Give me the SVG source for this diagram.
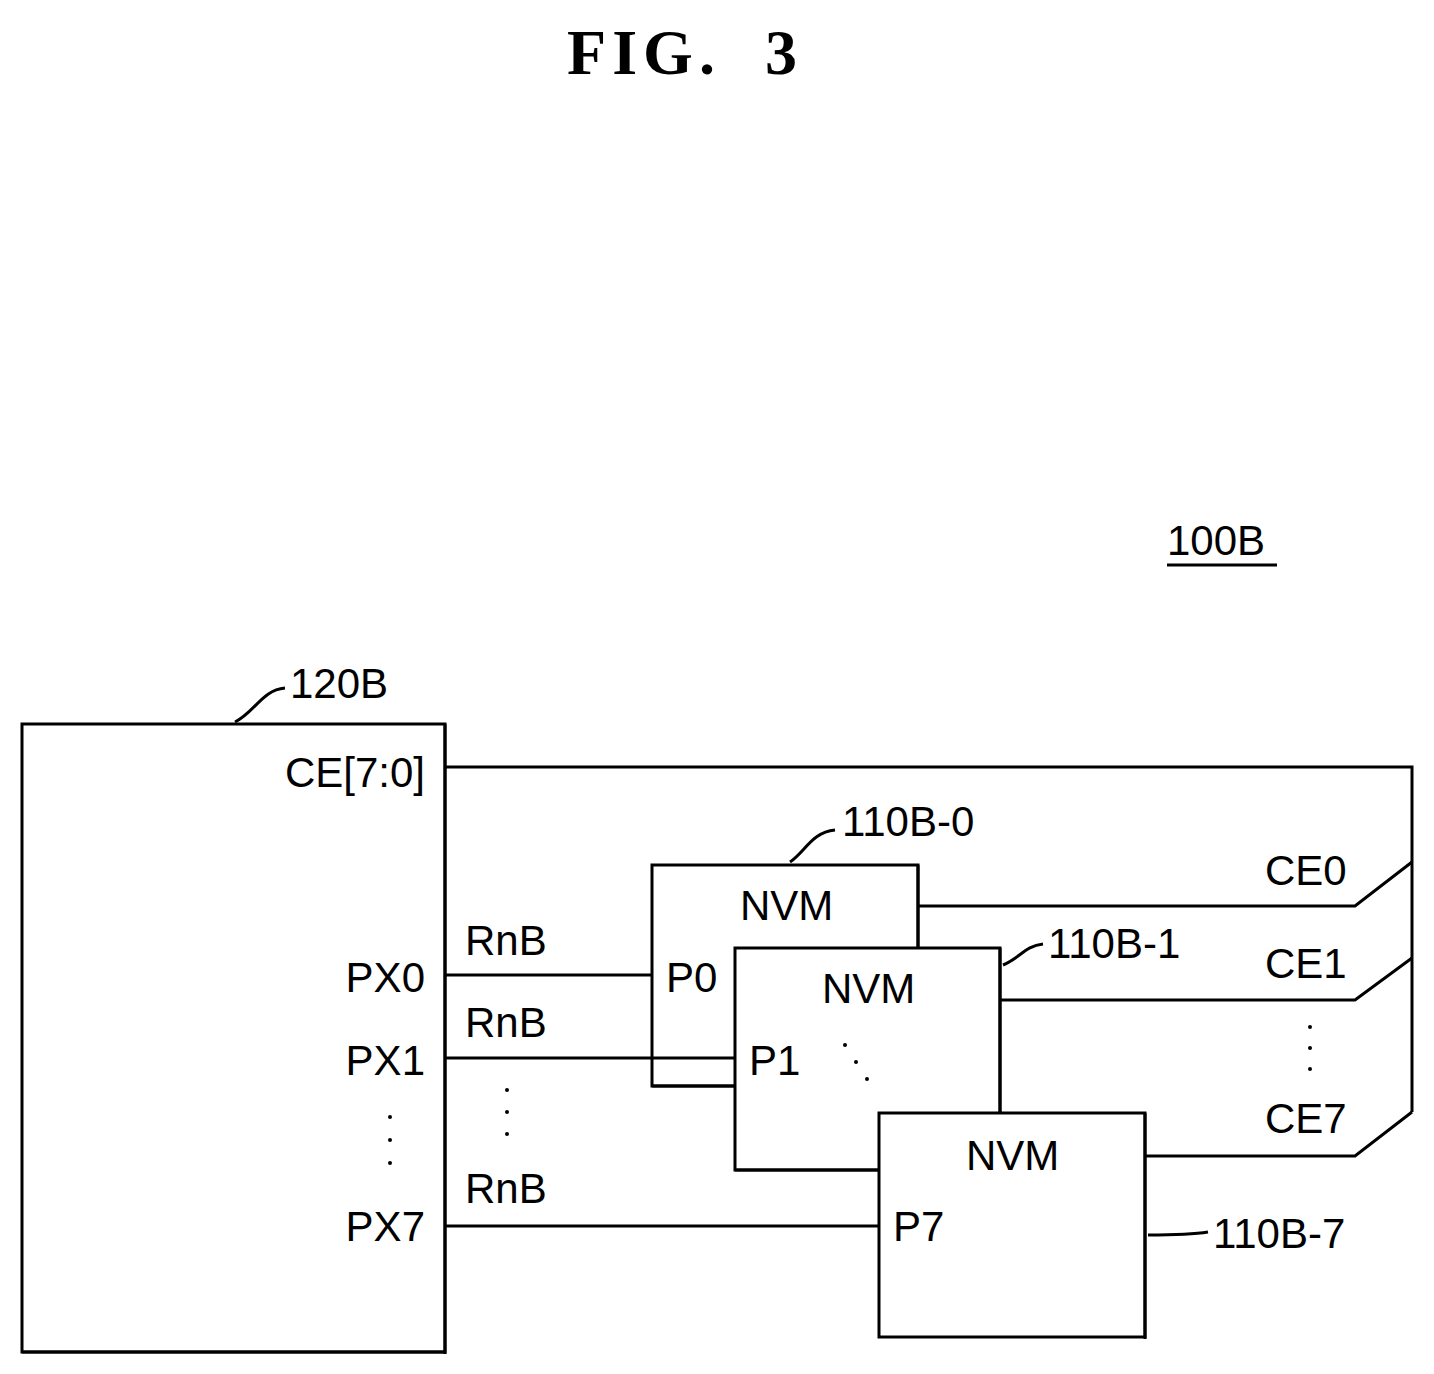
<svg xmlns="http://www.w3.org/2000/svg" width="1434" height="1374" viewBox="0 0 1434 1374">
<style>
.t{font-family:"Liberation Sans",Arial,sans-serif;font-size:42px;fill:#000}
.r{text-anchor:end}
.b{fill:#fff;stroke:#000;stroke-width:3}
.l{fill:none;stroke:#000;stroke-width:3}
.d{fill:#000}
</style>
<rect width="1434" height="1374" fill="#fff"/>
<text x="685" y="74" text-anchor="middle" style="font-family:'Liberation Serif',serif;font-weight:bold;font-size:64px;letter-spacing:6px" xml:space="preserve">FIG.  3</text>
<text class="t" x="1167" y="555">100B</text>
<line class="l" x1="1167" y1="565" x2="1277" y2="565"/>
<g id="n120B">
<rect class="b" x="22" y="724" width="423" height="628"/>
<path class="l" d="M445,724 V1354 M22,1352 H445" stroke-width="5"/>
<text class="t" x="290" y="698">120B</text>
<text class="t r" x="425" y="787">CE[7:0]</text>
<text class="t r" x="425" y="992">PX0</text>
<text class="t r" x="425" y="1075">PX1</text>
<text class="t r" x="425" y="1241">PX7</text>
<circle class="d" cx="390" cy="1117" r="2"/><circle class="d" cx="390" cy="1140" r="2"/><circle class="d" cx="390" cy="1163" r="2"/>
<text class="t" x="465" y="955">RnB</text>
<text class="t" x="465" y="1037">RnB</text>
<text class="t" x="465" y="1203">RnB</text>
<circle class="d" cx="507" cy="1090" r="2"/><circle class="d" cx="507" cy="1112" r="2"/><circle class="d" cx="507" cy="1134" r="2"/>
</g>
<g id="n110B-0">
<rect class="b" x="652" y="865" width="266" height="221"/>
<path class="l" d="M918,865 V948 M652,1086 H735" stroke-width="5"/>
<text class="t" x="740" y="920">NVM</text>
<text class="t" x="666" y="992">P0</text>
<text class="t" x="842" y="836">110B-0</text>
</g>
<g id="n110B-1">
<rect class="b" x="735" y="948" width="265" height="222"/>
<path class="l" d="M1000,948 V1113 M735,1170 H879" stroke-width="5"/>
<text class="t" x="822" y="1003">NVM</text>
<text class="t" x="749" y="1075">P1</text>
<circle class="d" cx="845" cy="1045" r="2"/><circle class="d" cx="856" cy="1062" r="2"/><circle class="d" cx="867" cy="1079" r="2"/>
<text class="t" x="1048" y="958">110B-1</text>
</g>
<g id="n110B-7">
<rect class="b" x="879" y="1113" width="266" height="224"/>
<path class="l" d="M1145,1113 V1339" stroke-width="5"/>
<text class="t" x="966" y="1170">NVM</text>
<text class="t" x="893" y="1241">P7</text>
<text class="t" x="1213" y="1248">110B-7</text>
</g>
<g id="ce">
<text class="t" x="1265" y="885">CE0</text>
<text class="t" x="1265" y="978">CE1</text>
<text class="t" x="1265" y="1133">CE7</text>
<circle class="d" cx="1310" cy="1027" r="2"/><circle class="d" cx="1310" cy="1048" r="2"/><circle class="d" cx="1310" cy="1069" r="2"/>
</g>
<g id="connectors">
<path class="l" d="M445,767 H1412 V1112"/>
<path class="l" d="M918,906 H1355 L1412,862"/>
<path class="l" d="M1000,1000 H1355 L1412,958"/>
<path class="l" d="M1145,1156 H1355 L1412,1112"/>
<path class="l" d="M445,975 H652"/>
<path class="l" d="M445,1058 H735"/>
<path class="l" d="M445,1226 H879"/>
<path class="l" d="M235,722 C255,712 262,690 285,688"/>
<path class="l" d="M790,862 C805,852 812,832 835,830"/>
<path class="l" d="M1003,965 C1020,958 1025,946 1043,944"/>
<path class="l" d="M1148,1235 C1165,1235 1190,1235 1208,1232"/>
</g>
</svg>
